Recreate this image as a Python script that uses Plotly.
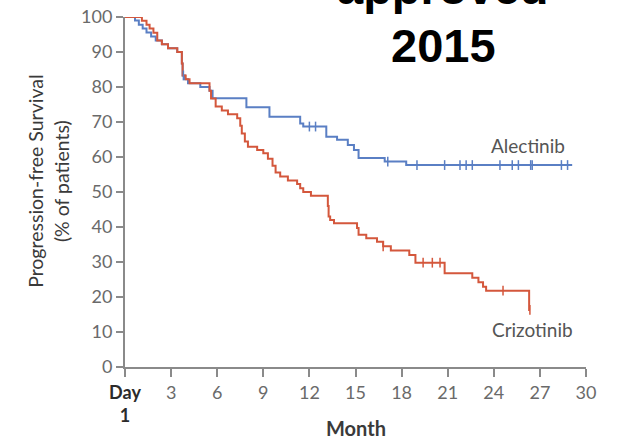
import plotly.graph_objects as go

# Alectinib (blue) Kaplan-Meier step data
alec_t = [0, 0.65, 0.9, 1.15, 1.4, 1.7, 2.0, 2.4, 2.8, 3.4, 3.7, 3.75, 3.9, 4.1, 4.9, 5.5, 5.7,
          7.9, 9.4, 11.4, 11.6, 13.1, 13.8, 14.5, 14.9, 15.2, 16.9, 18.3, 29.1]
alec_s = [100, 99.0, 97.8, 96.7, 95.6, 94.4, 93.3, 92.2, 91.1, 90.0, 86.7, 83.3, 82.2, 81.1, 80.0, 78.9, 76.8,
          74.2, 71.5, 69.6, 68.7, 65.8, 64.9, 63.4, 62.0, 59.7, 58.7, 57.7, 57.7]
alec_cens_t = [3.8, 12.0, 12.4, 17.1, 19.0, 20.8, 21.8, 22.2, 22.6, 24.4, 25.2, 25.6, 26.4, 26.5, 28.4, 28.8]

# Crizotinib (red) Kaplan-Meier step data
criz_t = [0, 1.1, 1.4, 1.6, 1.85, 2.1, 2.4, 2.8, 3.4, 3.7, 3.75, 3.95, 4.2, 5.5, 5.6, 5.9, 6.3, 6.7,
          7.3, 7.5, 7.6, 7.8, 8.0, 8.6, 9.0, 9.3, 9.6, 9.8, 10.1, 10.6, 11.2, 11.4, 11.6, 12.1,
          13.2, 13.25, 13.35, 13.6, 15.1, 15.2, 15.7, 16.4, 16.8, 17.3, 18.5, 18.9, 20.8, 22.6,
          23.0, 23.3, 23.5, 26.3, 26.35]
criz_s = [100, 98.9, 97.8, 96.7, 95.5, 93.3, 92.2, 91.1, 90.0, 86.7, 83.3, 82.2, 81.1, 78.9, 76.7, 74.4, 73.3, 72.2,
          71.1, 68.9, 66.7, 64.4, 62.9, 62.0, 61.1, 59.5, 57.5, 55.6, 54.4, 53.3, 52.3, 51.1, 50.0, 48.9,
          46.0, 43.0, 42.0, 41.1, 39.7, 37.8, 36.8, 35.8, 34.5, 33.3, 32.0, 29.8, 26.8, 25.5,
          24.2, 22.9, 21.8, 16.3, 16.3]
criz_cens_t = [16.8, 19.4, 20.0, 20.5, 24.6, 26.35]

x_tickvals = [0, 3, 6, 9, 12, 15, 18, 21, 24, 27, 30]
x_ticktext = ["<b style='color:#2b2b2b'>Day</b><br><b style='color:#2b2b2b'>1</b>", "3", "6", "9", "12", "15",
              "18", "21", "24", "27", "30"]
y_tickvals = [0, 10, 20, 30, 40, 50, 60, 70, 80, 90, 100]

BLUE = "#5a7fc4"
RED = "#d4573c"


def step_value(ts, ss, t):
    v = ss[0]
    for ti, si in zip(ts, ss):
        if ti <= t:
            v = si
    return v


fig = go.Figure()
fig.add_trace(go.Scatter(x=alec_t, y=alec_s, mode="lines", line=dict(color=BLUE, width=2, shape="hv"),
                         cliponaxis=False, showlegend=False))
fig.add_trace(go.Scatter(x=criz_t, y=criz_s, mode="lines", line=dict(color=RED, width=2, shape="hv"),
                         cliponaxis=False, showlegend=False))
fig.add_trace(go.Scatter(x=alec_cens_t, y=[step_value(alec_t, alec_s, t) for t in alec_cens_t], mode="markers",
                         marker=dict(symbol="line-ns", size=7, line=dict(color=BLUE, width=1.5)),
                         cliponaxis=False, showlegend=False))
fig.add_trace(go.Scatter(x=criz_cens_t, y=[step_value(criz_t, criz_s, t) for t in criz_cens_t], mode="markers",
                         marker=dict(symbol="line-ns", size=7, line=dict(color=RED, width=1.5)),
                         cliponaxis=False, showlegend=False))

fig.add_annotation(x=26.2, y=63.4, text="Alectinib", showarrow=False,
                   font=dict(family="Lato", size=19, color="#555555"))
fig.add_annotation(x=26.5, y=10.6, text="Crizotinib", showarrow=False,
                   font=dict(family="Lato", size=19, color="#555555"))

# y-axis title (two lines, rotated)
fig.add_annotation(xref="paper", yref="paper", x=-0.167, y=0.529, xanchor="center", yanchor="middle",
                   text="Progression-free Survival<br>(% of patients)", textangle=-90, showarrow=False,
                   font=dict(family="Lato", size=19.5, color="#3a3a3a"))

# x-axis title
fig.add_annotation(xref="paper", yref="paper", x=0.5, y=-0.175, xanchor="center", yanchor="middle",
                   text="<b>Month</b>", showarrow=False,
                   font=dict(family="Lato", size=20, color="#3a3a3a"))

# heading text (first line runs off the top of the picture, as in the source)
fig.add_annotation(xref="paper", yref="paper", x=0.69, y=1.085, xanchor="center", yanchor="middle",
                   text="<b>approved</b>", showarrow=False,
                   font=dict(family="Liberation Sans", size=47, color="#000000"))
fig.add_annotation(xref="paper", yref="paper", x=0.69, y=0.9186, xanchor="center", yanchor="middle",
                   text="<b>2015</b>", showarrow=False,
                   font=dict(family="Liberation Sans", size=47, color="#000000"))

fig.update_layout(
    width=628, height=440,
    margin=dict(l=125, r=42, t=17, b=73, autoexpand=False),
    paper_bgcolor="white", plot_bgcolor="white",
    xaxis=dict(range=[0, 30], tickvals=x_tickvals, ticktext=x_ticktext, showgrid=False, zeroline=False,
               automargin=False, ticklabeloverflow="allow",
               showline=True, linecolor="#8a8a8a", linewidth=2, ticks="outside", ticklen=8, tickwidth=1.5,
               tickcolor="#8a8a8a", tickfont=dict(family="Lato", size=18, color="#6a6a6a")),
    yaxis=dict(range=[0, 100], tickvals=y_tickvals, showgrid=False, zeroline=False,
               automargin=False, ticklabeloverflow="allow",
               showline=True, linecolor="#8a8a8a", linewidth=2, ticks="outside", ticklen=7, tickwidth=1.5,
               tickcolor="#8a8a8a", tickfont=dict(family="Lato", size=18, color="#6a6a6a")),
)

fig.write_html("out.html", config={"displayModeBar": False},
               post_script="document.body.style.margin='0';document.body.style.padding='0';")
